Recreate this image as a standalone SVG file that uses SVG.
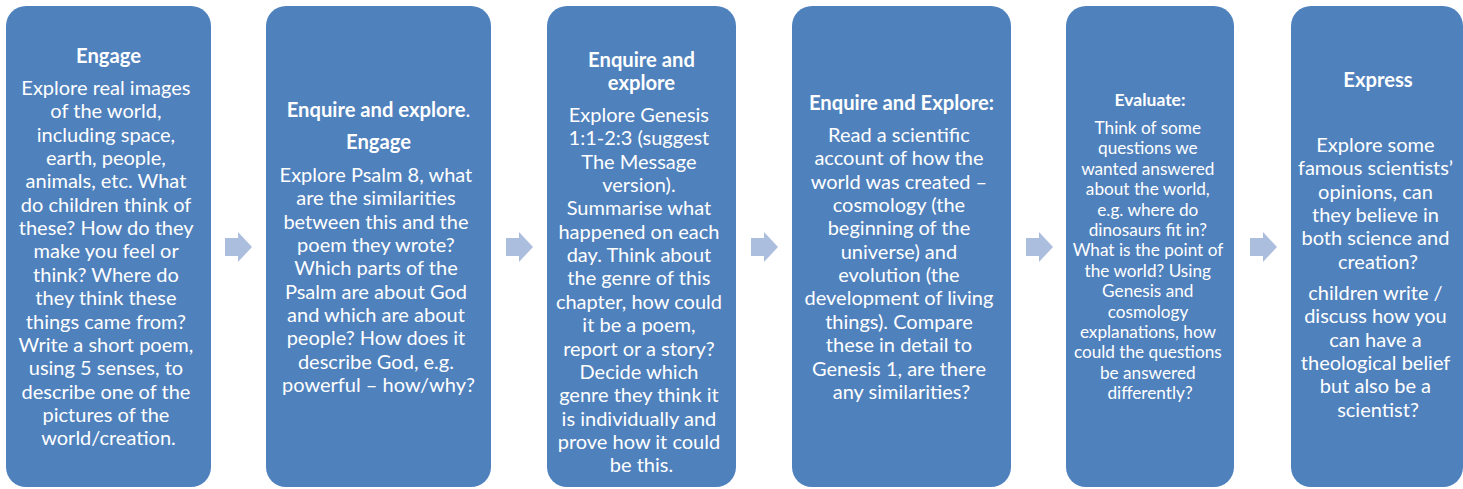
<svg xmlns="http://www.w3.org/2000/svg" width="1463" height="489" viewBox="0 0 1463 489">
<style>
.box{fill:#4F81BD;}
.arr{fill:#ACBEDD;}
text{font-family:Lato,"Liberation Sans",sans-serif;fill:#fff;text-anchor:middle;}
.t{font-size:20.2px;font-weight:bold;}
.b{font-size:20px;}
.t5{font-size:17.5px;font-weight:bold;}
.b5{font-size:17.2px;}
</style>
<rect width="1463" height="489" fill="#fff"/>
<g id="connectors">
<polygon class="arr" points="225,238 238,238 238,232 252,247 238,262 238,256 225,256"/>
<polygon class="arr" points="506,238 519,238 519,232 533,247 519,262 519,256 506,256"/>
<polygon class="arr" points="751,238 764,238 764,232 778,247 764,262 764,256 751,256"/>
<polygon class="arr" points="1026,238 1039,238 1039,232 1053,247 1039,262 1039,256 1026,256"/>
<polygon class="arr" points="1250,238 1263,238 1263,232 1277,247 1263,262 1263,256 1250,256"/>
</g>
<g id="node1">
<rect class="box" x="6" y="6" width="205" height="481" rx="20"/>
<text class="t" x="108.5" y="63">Engage</text>
<text class="b" x="108.5" y="95">
<tspan x="108.5" y="95">Explore real images</tspan>
<tspan x="108.5" dy="23.35">of the world,</tspan>
<tspan x="108.5" dy="23.35">including space,</tspan>
<tspan x="108.5" dy="23.35">earth, people,</tspan>
<tspan x="108.5" dy="23.35">animals, etc. What</tspan>
<tspan x="108.5" dy="23.35">do children think of</tspan>
<tspan x="108.5" dy="23.35">these? How do they</tspan>
<tspan x="108.5" dy="23.35">make you feel or</tspan>
<tspan x="108.5" dy="23.35">think? Where do</tspan>
<tspan x="108.5" dy="23.35">they think these</tspan>
<tspan x="108.5" dy="23.35">things came from?</tspan>
<tspan x="108.5" dy="23.35">Write a short poem,</tspan>
<tspan x="108.5" dy="23.35">using 5 senses, to</tspan>
<tspan x="108.5" dy="23.35">describe one of the</tspan>
<tspan x="108.5" dy="23.35">pictures of the</tspan>
<tspan x="108.5" dy="23.35">world/creation.</tspan>
</text>
</g>
<g id="node2">
<rect class="box" x="266" y="6" width="225" height="481" rx="20"/>
<text class="t" x="378.5" y="117">Enquire and explore<tspan font-weight="normal">.</tspan></text>
<text class="t" x="378.5" y="149">Engage</text>
<text class="b" x="378.5" y="182">
<tspan x="378.5" y="182">Explore Psalm 8, what</tspan>
<tspan x="378.5" dy="23.35">are the similarities</tspan>
<tspan x="378.5" dy="23.35">between this and the</tspan>
<tspan x="378.5" dy="23.35">poem they wrote?</tspan>
<tspan x="378.5" dy="23.35">Which parts of the</tspan>
<tspan x="378.5" dy="23.35">Psalm are about God</tspan>
<tspan x="378.5" dy="23.35">and which are about</tspan>
<tspan x="378.5" dy="23.35">people? How does it</tspan>
<tspan x="378.5" dy="23.35">describe God, e.g.</tspan>
<tspan x="378.5" dy="23.35">powerful – how/why?</tspan>
</text>
</g>
<g id="node3">
<rect class="box" x="547" y="6" width="189" height="481" rx="20"/>
<text class="t" x="641.5" y="67">Enquire and</text>
<text class="t" x="641.5" y="90">explore</text>
<text class="b" x="641.5" y="122">
<tspan x="641.5" y="122">Explore Genesis</tspan>
<tspan x="641.5" dy="23.35">1:1-2:3 (suggest</tspan>
<tspan x="641.5" dy="23.35">The Message</tspan>
<tspan x="641.5" dy="23.35">version).</tspan>
<tspan x="641.5" dy="23.35">Summarise what</tspan>
<tspan x="641.5" dy="23.35">happened on each</tspan>
<tspan x="641.5" dy="23.35">day. Think about</tspan>
<tspan x="641.5" dy="23.35">the genre of this</tspan>
<tspan x="641.5" dy="23.35">chapter, how could</tspan>
<tspan x="641.5" dy="23.35">it be a poem,</tspan>
<tspan x="641.5" dy="23.35">report or a story?</tspan>
<tspan x="641.5" dy="23.35">Decide which</tspan>
<tspan x="641.5" dy="23.35">genre they think it</tspan>
<tspan x="641.5" dy="23.35">is individually and</tspan>
<tspan x="641.5" dy="23.35">prove how it could</tspan>
<tspan x="641.5" dy="23.35">be this.</tspan>
</text>
</g>
<g id="node4">
<rect class="box" x="792" y="6" width="219" height="481" rx="20"/>
<text class="t" x="901.5" y="110">Enquire and Explore:</text>
<text class="b" x="901.5" y="142">
<tspan x="901.5" y="142">Read a scientific</tspan>
<tspan x="901.5" dy="23.35">account of how the</tspan>
<tspan x="901.5" dy="23.35">world was created –</tspan>
<tspan x="901.5" dy="23.35">cosmology (the</tspan>
<tspan x="901.5" dy="23.35">beginning of the</tspan>
<tspan x="901.5" dy="23.35">universe) and</tspan>
<tspan x="901.5" dy="23.35">evolution (the</tspan>
<tspan x="901.5" dy="23.35">development of living</tspan>
<tspan x="901.5" dy="23.35">things). Compare</tspan>
<tspan x="901.5" dy="23.35">these in detail to</tspan>
<tspan x="901.5" dy="23.35">Genesis 1, are there</tspan>
<tspan x="901.5" dy="23.35">any similarities?</tspan>
</text>
</g>
<g id="node5">
<rect class="box" x="1066" y="6" width="168" height="481" rx="20"/>
<text class="t5" x="1150" y="106">Evaluate:</text>
<text class="b5" x="1150" y="134">
<tspan x="1150" y="134">Think of some</tspan>
<tspan x="1150" dy="20.4">questions we</tspan>
<tspan x="1150" dy="20.4">wanted answered</tspan>
<tspan x="1150" dy="20.4">about the world,</tspan>
<tspan x="1150" dy="20.4">e.g. where do</tspan>
<tspan x="1150" dy="20.4">dinosaurs fit in?</tspan>
<tspan x="1150" dy="20.4">What is the point of</tspan>
<tspan x="1150" dy="20.4">the world? Using</tspan>
<tspan x="1150" dy="20.4">Genesis and</tspan>
<tspan x="1150" dy="20.4">cosmology</tspan>
<tspan x="1150" dy="20.4">explanations, how</tspan>
<tspan x="1150" dy="20.4">could the questions</tspan>
<tspan x="1150" dy="20.4">be answered</tspan>
<tspan x="1150" dy="20.4">differently?</tspan>
</text>
</g>
<g id="node6">
<rect class="box" x="1291" y="6" width="172" height="481" rx="20"/>
<text class="t" x="1378" y="87">Express</text>
<text class="b" x="1378" y="152">
<tspan x="1378" y="152">Explore some</tspan>
<tspan x="1378" dy="23.35">famous scientists’</tspan>
<tspan x="1378" dy="23.35">opinions, can</tspan>
<tspan x="1378" dy="23.35">they believe in</tspan>
<tspan x="1378" dy="23.35">both science and</tspan>
<tspan x="1378" dy="23.35">creation?</tspan>
</text>
<text class="b" x="1378" y="300">
<tspan x="1378" y="300">children write /</tspan>
<tspan x="1378" dy="23.35">discuss how you</tspan>
<tspan x="1378" dy="23.35">can have a</tspan>
<tspan x="1378" dy="23.35">theological belief</tspan>
<tspan x="1378" dy="23.35">but also be a</tspan>
<tspan x="1378" dy="23.35">scientist?</tspan>
</text>
</g>
</svg>
